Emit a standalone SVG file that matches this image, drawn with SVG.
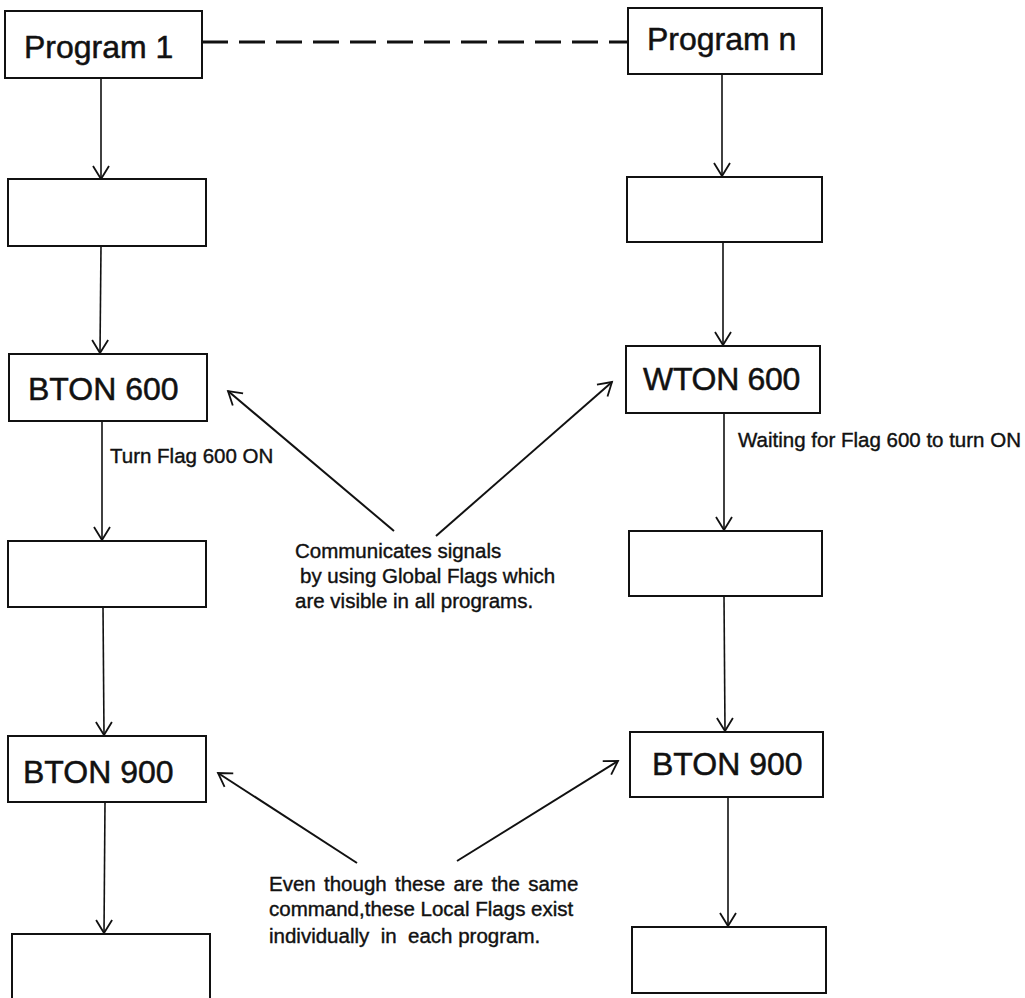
<svg xmlns="http://www.w3.org/2000/svg" width="1025" height="998" viewBox="0 0 1025 998">
  <style>
    .box { fill: #fff; stroke: #111; stroke-width: 2; }
    .flow { fill: none; stroke: #111; stroke-width: 1.6; marker-end: url(#vee); }
    .note { fill: none; stroke: #111; stroke-width: 2; marker-end: url(#vee); }
    .link { fill: none; stroke: #111; stroke-width: 3; stroke-dasharray: 26 11; }
    .big { font-family: "Liberation Sans", Arial, sans-serif; font-size: 32px; fill: #111; stroke: #111; stroke-width: 0.5; }
    .small { font-family: "Liberation Sans", Arial, sans-serif; font-size: 20.5px; fill: #111; stroke: #111; stroke-width: 0.4; }
  </style>
  <defs>
    <marker id="vee" markerUnits="userSpaceOnUse" markerWidth="30" markerHeight="30" viewBox="-15 -15 30 30" refX="0" refY="0" orient="auto">
      <path d="M -13 -8 L 0 0 L -13 8" fill="none" stroke="#111" stroke-width="1.8"/>
    </marker>
  </defs>
  <rect width="1025" height="998" fill="#fff"/>

  <!-- connectors -->
  <g id="connectors">
    <line class="link" x1="202" y1="42" x2="628" y2="42"/>
    <!-- left program flow -->
    <line class="flow" x1="101" y1="78" x2="101" y2="179"/>
    <line class="flow" x1="101" y1="246" x2="100" y2="353"/>
    <line class="flow" x1="102" y1="421" x2="102" y2="540"/>
    <line class="flow" x1="103" y1="607" x2="104" y2="735"/>
    <line class="flow" x1="105" y1="802" x2="104" y2="933"/>
    <!-- right program flow -->
    <line class="flow" x1="722" y1="74" x2="722" y2="176"/>
    <line class="flow" x1="723" y1="242" x2="723" y2="345"/>
    <line class="flow" x1="724" y1="413" x2="724" y2="530"/>
    <line class="flow" x1="724" y1="596" x2="725" y2="731"/>
    <line class="flow" x1="728" y1="797" x2="728" y2="926"/>
    <!-- annotation pointers -->
    <line class="note" x1="394" y1="531" x2="228" y2="391"/>
    <line class="note" x1="436" y1="536" x2="612" y2="382"/>
    <line class="note" x1="357" y1="863" x2="218" y2="773"/>
    <line class="note" x1="457" y1="861" x2="618" y2="761"/>
  </g>

  <!-- program 1 column -->
  <g id="p1-start"><rect class="box" x="5" y="11" width="197" height="67"/><text class="big" x="24" y="58" font-size="33">Program 1</text></g>
  <g id="p1-step1"><rect class="box" x="8" y="179" width="198" height="67"/></g>
  <g id="p1-bton600"><rect class="box" x="9" y="354" width="198" height="67"/><text class="big" x="28" y="400">BTON 600</text></g>
  <g id="p1-step2"><rect class="box" x="8" y="541" width="198" height="66"/></g>
  <g id="p1-bton900"><rect class="box" x="8" y="736" width="198" height="66"/><text class="big" x="23" y="783" font-size="34">BTON 900</text></g>
  <g id="p1-step3"><rect class="box" x="12" y="934" width="198" height="80"/></g>

  <!-- program n column -->
  <g id="pn-start"><rect class="box" x="628" y="8" width="194" height="66"/><text class="big" x="647" y="50">Program n</text></g>
  <g id="pn-step1"><rect class="box" x="627" y="177" width="195" height="65"/></g>
  <g id="pn-wton600"><rect class="box" x="626" y="346" width="194" height="67"/><text class="big" x="643" y="390" letter-spacing="-0.3">WTON 600</text></g>
  <g id="pn-step2"><rect class="box" x="629" y="531" width="193" height="65"/></g>
  <g id="pn-bton900"><rect class="box" x="630" y="732" width="193" height="65"/><text class="big" x="652" y="775">BTON 900</text></g>
  <g id="pn-step3"><rect class="box" x="632" y="927" width="194" height="66"/></g>

  <!-- labels -->
  <g id="label-turn"><text class="small" x="110" y="463">Turn Flag 600 ON</text></g>
  <g id="label-wait"><text class="small" x="738" y="447">Waiting for Flag 600 to turn ON</text></g>
  <g id="note-global">
    <text class="small" x="295" y="558">Communicates signals</text>
    <text class="small" x="300" y="583">by using Global Flags which</text>
    <text class="small" x="295" y="608">are visible in all programs.</text>
  </g>
  <g id="note-local">
    <text class="small" x="269" y="891" word-spacing="2.6">Even though these are the same</text>
    <text class="small" x="269" y="916">command,these Local Flags exist</text>
    <text class="small" x="269" y="943" xml:space="preserve">individually  in  each program.</text>
  </g>
</svg>
